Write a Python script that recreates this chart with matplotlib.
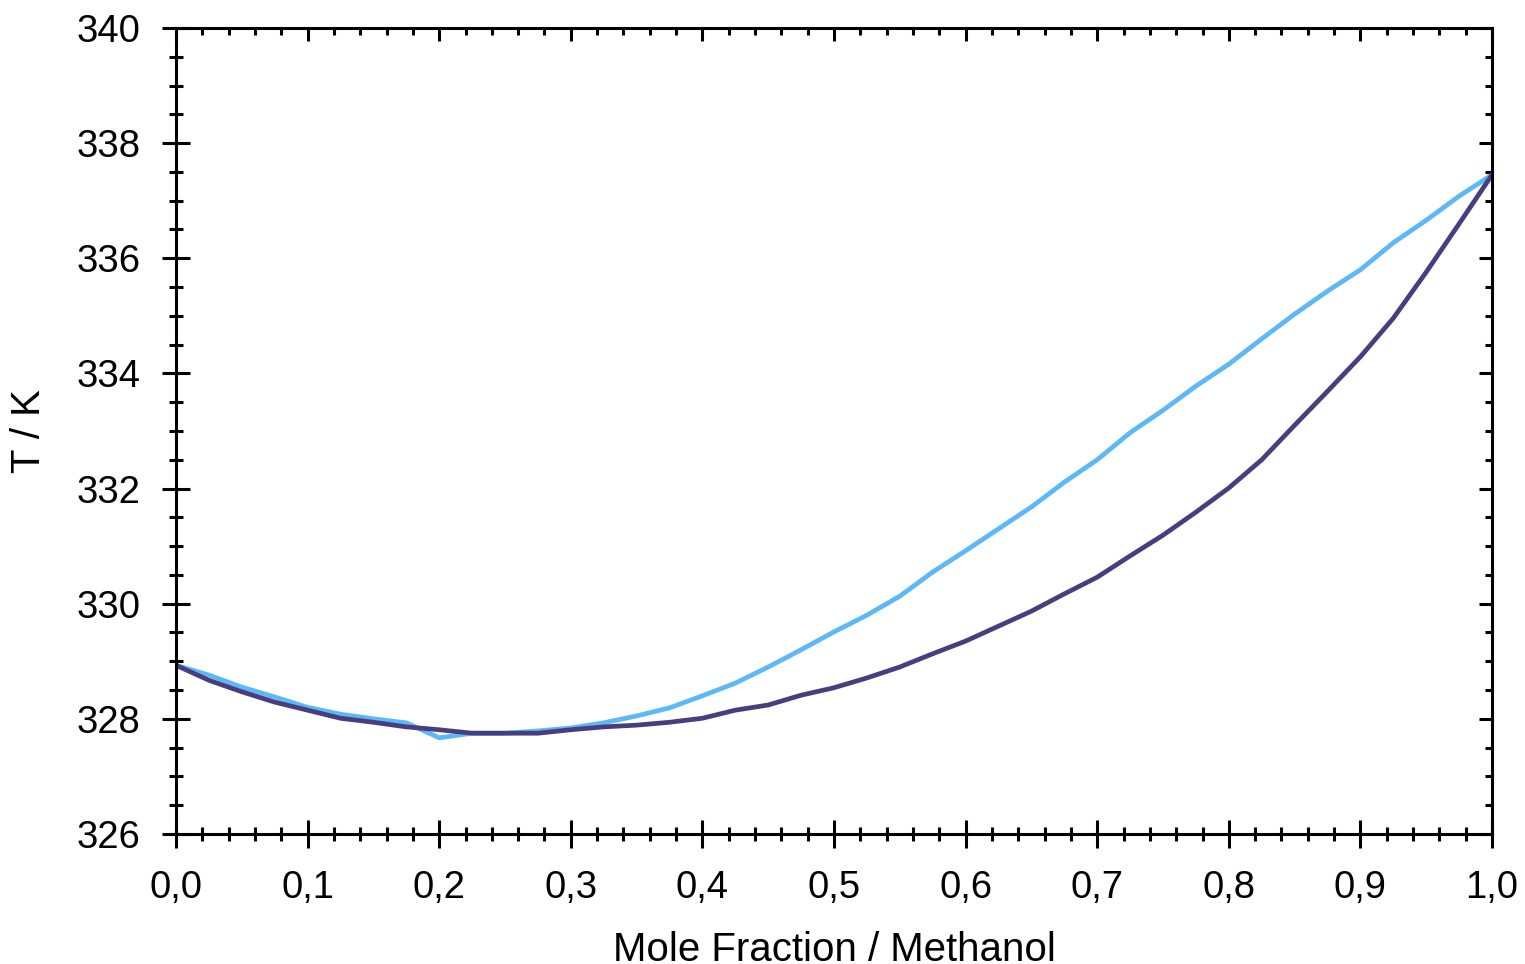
"""T-x-y diagram, methanol mixture (bubble/dew curves)."""
import matplotlib
matplotlib.use("Agg")
import matplotlib.pyplot as plt
from matplotlib.ticker import MultipleLocator, FuncFormatter

# ── data ──────────────────────────────────────────────────────────────
x_frac = [0.0, 0.025, 0.05, 0.075, 0.1, 0.125, 0.15, 0.175, 0.2, 0.225,
          0.25, 0.275, 0.3, 0.325, 0.35, 0.375, 0.4, 0.425, 0.45, 0.475,
          0.5, 0.525, 0.55, 0.575, 0.6, 0.625, 0.65, 0.675, 0.7, 0.725,
          0.75, 0.775, 0.8, 0.825, 0.85, 0.875, 0.9, 0.925, 0.95, 0.975, 1.0]

# upper (dew) curve, light blue
T_dew = [328.93, 328.76, 328.55, 328.38, 328.20, 328.08, 328.00, 327.93, 327.67, 327.75,
         327.75, 327.79, 327.84, 327.93, 328.05, 328.19, 328.40, 328.62, 328.90, 329.20,
         329.51, 329.80, 330.13, 330.55, 330.92, 331.30, 331.68, 332.11, 332.50, 332.97,
         333.36, 333.78, 334.16, 334.60, 335.03, 335.43, 335.80, 336.27, 336.66, 337.08, 337.45]

# lower (bubble) curve, dark purple
T_bub = [328.93, 328.67, 328.47, 328.29, 328.15, 328.01, 327.94, 327.86, 327.81, 327.75,
         327.75, 327.75, 327.81, 327.86, 327.89, 327.94, 328.01, 328.15, 328.24, 328.41,
         328.54, 328.71, 328.90, 329.13, 329.35, 329.61, 329.87, 330.17, 330.46, 330.83,
         331.19, 331.59, 332.01, 332.50, 333.10, 333.69, 334.29, 334.96, 335.76, 336.60, 337.45]

plt.rcParams['font.family'] = ['Liberation Sans', 'DejaVu Sans']

fig = plt.figure(figsize=(15.25, 9.64), dpi=100)
ax = fig.add_axes([0.1154, 0.1349, 0.8630, 0.8361])

ax.plot(x_frac, T_dew, color="#5cb8f6", lw=3.4, solid_joinstyle="miter")
ax.plot(x_frac, T_bub, color="#483d7e", lw=3.4, solid_joinstyle="miter")

ax.set_xlim(0, 1)
ax.set_ylim(326, 340)
ax.xaxis.set_major_locator(MultipleLocator(0.1))
ax.xaxis.set_minor_locator(MultipleLocator(0.02))
ax.yaxis.set_major_locator(MultipleLocator(2))
ax.yaxis.set_minor_locator(MultipleLocator(0.5))
ax.xaxis.set_major_formatter(FuncFormatter(lambda v, p: f"{v:.1f}".replace(".", ",")))

for s in ax.spines.values():
    s.set_linewidth(2.2)

# left/bottom ticks cross the axis, top/right point inward
ax.tick_params(which="both", direction="inout", top=False, right=False,
               width=2.2, labelsize=27.5, pad=16)
ax.tick_params(which="major", length=19.5)
ax.tick_params(which="minor", length=9.5)

sec_x = ax.secondary_xaxis("top")
sec_y = ax.secondary_yaxis("right")
for sec in (sec_x, sec_y):
    sec.spines[:].set_visible(False)
    sec.tick_params(which="both", direction="in", width=2.2, labelsize=0)
    sec.tick_params(which="major", length=9.5)
    sec.tick_params(which="minor", length=5)
sec_x.xaxis.set_major_locator(MultipleLocator(0.1))
sec_x.xaxis.set_minor_locator(MultipleLocator(0.02))
sec_x.set_xticklabels([])
sec_y.yaxis.set_major_locator(MultipleLocator(2))
sec_y.yaxis.set_minor_locator(MultipleLocator(0.5))
sec_y.set_yticklabels([])

ax.set_xlabel("Mole Fraction / Methanol", fontsize=29, labelpad=18)
ax.set_ylabel("T / K", fontsize=29, labelpad=20)

fig.savefig("out.png", dpi=100)
